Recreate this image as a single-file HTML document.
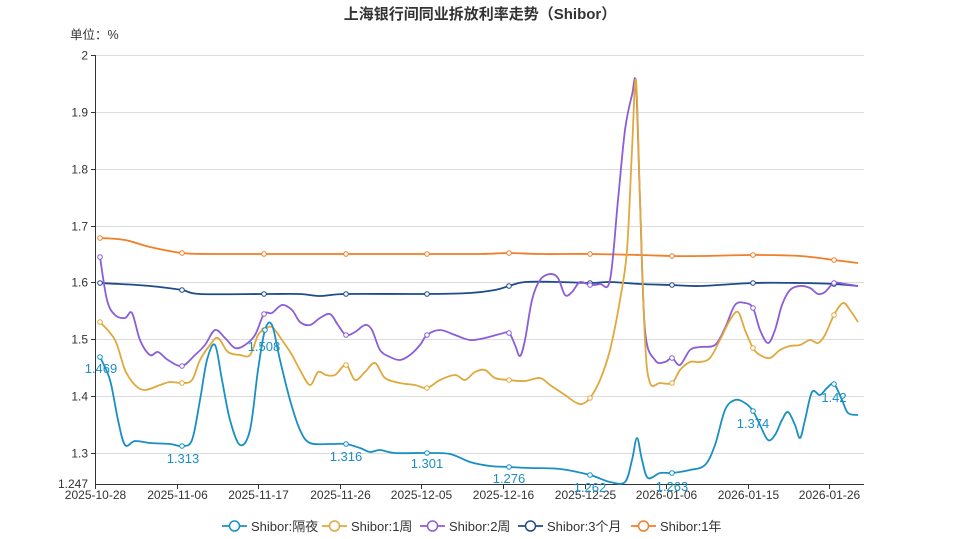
<!DOCTYPE html>
<html><head><meta charset="utf-8">
<style>
body{margin:0;background:#fff;}
svg{display:block;font-family:"Liberation Sans","Noto Sans CJK SC",sans-serif;}
</style></head>
<body>
<svg id="c" width="959" height="539" viewBox="0 0 959 539">
<text x="480" y="19" text-anchor="middle" font-size="15" font-weight="bold" fill="#333">上海银行间同业拆放利率走势（Shibor）</text>
<text x="70" y="39" font-size="12.5" fill="#333">单位：%</text>
<g id="grid" stroke="#dcdcdc" stroke-width="1"></g>
<g id="ylab" font-size="12" fill="#333" text-anchor="end"></g>
<line x1="95.5" y1="55" x2="95.5" y2="484" stroke="#333"/>
<line x1="95" y1="484.5" x2="864" y2="484.5" stroke="#333"/>
<g id="xlab" font-size="12" fill="#333" text-anchor="middle"></g>
<g id="series"></g>
<g id="lbl" font-size="13" fill="#1a8fc4" text-anchor="middle"></g>
<g id="legend" font-size="13" fill="#333"></g>
</svg>
<script>
const NS="http://www.w3.org/2000/svg";
function el(t,a,p,txt){const e=document.createElementNS(NS,t);for(const k in a)e.setAttribute(k,a[k]);if(txt!==undefined)e.textContent=txt;p.appendChild(e);return e;}
const Y=v=>55+(2-v)*568.4;
const grid=document.getElementById('grid'),ylab=document.getElementById('ylab');
[2,1.9,1.8,1.7,1.6,1.5,1.4,1.3].forEach(v=>{const y=Math.round(Y(v))+0.5;el('line',{x1:95,x2:864,y1:y,y2:y},grid);el('line',{x1:91,x2:95,y1:y,y2:y,stroke:'#333'},grid);el('text',{x:88,y:y+4},ylab,String(v));});
el('text',{x:88,y:488},ylab,'1.247');
const xl=['2025-10-28','2025-11-06','2025-11-17','2025-11-26','2025-12-05','2025-12-16','2025-12-25','2026-01-06','2026-01-15','2026-01-26'];
const xg=document.getElementById('xlab');
xl.forEach((t,i)=>{const x=Math.round(95+i*81.6)+0.5;el('line',{x1:x,x2:x,y1:484,y2:489,stroke:'#333'},xg);el('text',{x:x,y:499},xg,t);});
function path(pts){let d='M'+pts[0][0]+','+pts[0][1];for(let i=0;i<pts.length-1;i++){const p0=pts[i-1]||pts[i],p1=pts[i],p2=pts[i+1],p3=pts[i+2]||p2;const t=6;d+=' C'+(p1[0]+(p2[0]-p0[0])/t)+','+(p1[1]+(p2[1]-p0[1])/t)+' '+(p2[0]-(p3[0]-p1[0])/t)+','+(p2[1]-(p3[1]-p1[1])/t)+' '+p2[0]+','+p2[1];}return d;}
const S=[
['#f07f2a',[[100,238],[125,240],[150,247],[182,253],[210,254],[264,254],[346,254],[427,254],[480,254],[509,253],[540,254],[590,254],[640,255],[672,256],[700,256],[753,255],[800,256],[834,260],[858,263]]],
['#1f4b8a',[[100,283],[120,284],[150,286],[182,290],[200,294],[264,294],[300,294],[320,296],[346,294],[427,294],[470,293],[495,290],[509,286],[525,282],[560,282],[590,283],[610,282],[640,284],[672,285],[700,286],[753,283],[800,283],[834,284],[858,286]]],
['#8b5ed8',[[100,257],[107,300],[115,315],[125,318],[132,313],[140,340],[150,355],[158,352],[168,360],[182,366],[195,355],[205,345],[215,330],[225,338],[235,348],[245,345],[255,335],[264,314],[272,313],[282,305],[292,310],[300,322],[310,325],[320,318],[330,314],[338,325],[346,335],[355,332],[365,325],[372,330],[380,350],[390,357],[400,360],[410,355],[420,345],[427,335],[440,330],[455,335],[470,340],[485,338],[500,334],[509,333],[515,345],[520,356],[525,340],[532,300],[540,280],[550,274],[558,278],[565,295],[572,292],[580,282],[590,285],[600,284],[610,280],[618,200],[625,130],[632,95],[636,85],[640,200],[645,330],[655,360],[665,362],[672,358],[680,365],[690,350],[700,347],[715,345],[725,328],[735,305],[745,303],[753,308],[760,330],[768,343],[775,330],[782,305],[790,290],[800,286],[810,288],[818,294],[825,292],[834,283],[845,284],[858,286]]],
['#e0a93c',[[100,322],[115,340],[125,370],[135,385],[145,390],[160,385],[170,382],[182,383],[192,380],[200,360],[210,345],[218,338],[228,352],[240,355],[250,355],[258,335],[264,330],[272,327],[282,340],[292,355],[300,370],[310,385],[318,372],[326,375],[335,375],[346,365],[355,380],[365,372],[375,363],[385,378],[400,383],[415,385],[427,388],[440,380],[455,375],[465,380],[475,372],[485,370],[495,378],[509,380],[525,381],[540,378],[550,385],[565,395],[575,402],[582,404],[590,398],[600,380],[610,350],[620,300],[627,250],[632,150],[636,80],[640,200],[645,340],[650,383],[660,383],[672,383],[680,370],[690,362],[700,362],[710,358],[720,340],[730,320],[738,312],[745,330],[753,348],[760,355],[770,358],[780,350],[790,346],[800,345],[810,340],[818,343],[825,335],[834,315],[843,303],[850,310],[858,322]]],
['#1a8fc4',[[100,357],[110,380],[118,420],[125,445],[135,441],[150,443],[170,444],[182,446],[192,440],[200,400],[207,360],[215,345],[222,380],[230,420],[240,445],[250,430],[258,370],[265,330],[272,325],[280,360],[290,400],[300,430],[310,443],[330,444],[346,444],[360,448],[370,452],[380,450],[395,453],[427,453],[450,454],[470,462],[490,466],[509,467],[530,468],[560,469],[590,475],[610,482],[625,482],[632,460],[637,438],[642,460],[648,478],[660,473],[672,473],[690,470],[705,465],[715,445],[725,410],[735,400],[745,403],[753,411],[760,425],[768,440],[775,435],[782,420],[788,412],[795,425],[800,438],[805,420],[812,392],[820,395],[827,388],[834,384],[842,400],[848,413],[858,415]]]
];
const sg=document.getElementById('series');
const mx=[100,182,264,346,427,509,590,672,753,834];
S.forEach(([c,p])=>{el('path',{d:path(p),fill:'none',stroke:c,'stroke-width':1.8},sg);
mx.forEach(x=>{let best=p[0];p.forEach(q=>{if(Math.abs(q[0]-x)<Math.abs(best[0]-x))best=q;});el('circle',{cx:best[0],cy:best[1],r:2.3,fill:'#fff',stroke:c,'stroke-width':1},sg);});});
const lg=document.getElementById('lbl');
[[101,373,'1.469'],[183,463,'1.313'],[264,351,'1.508'],[346,461,'1.316'],[427,468,'1.301'],[509,483,'1.276'],[590,492,'1.262'],[672,491,'1.263'],[753,428,'1.374'],[834,402,'1.42']].forEach(a=>el('text',{x:a[0],y:a[1]},lg,a[2]));
const L=document.getElementById('legend');
[['#1a8fc4','Shibor:隔夜',222],['#e0a93c','Shibor:1周',322],['#8b5ed8','Shibor:2周',420],['#1f4b8a','Shibor:3个月',518],['#f07f2a','Shibor:1年',631]].forEach(([c,t,x])=>{
el('line',{x1:x,x2:x+25,y1:526,y2:526,stroke:c,'stroke-width':1.8},L);el('circle',{cx:x+12.5,cy:526,r:5,fill:'#fff',stroke:c,'stroke-width':1.5},L);el('text',{x:x+29,y:531},L,t);});
</script>
</body></html>
